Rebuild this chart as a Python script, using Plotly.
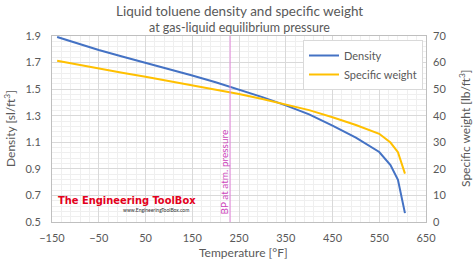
import plotly.graph_objects as go

# Temperature [°F]
temp_f = [-139, -100, -50, 0, 50, 100, 150, 200, 250, 300, 350, 400, 450, 500, 550, 574, 590, 605]
# Density [sl/ft3]
density = [1.893, 1.850, 1.795, 1.746, 1.700, 1.651, 1.603, 1.552, 1.497, 1.440, 1.378, 1.310, 1.225, 1.135, 1.027, 0.929, 0.817, 0.567]
# Specific weight [lb/ft3]
spec_weight = [60.7, 59.4, 57.7, 56.2, 54.7, 53.1, 51.6, 49.9, 48.2, 46.3, 44.3, 42.1, 39.4, 36.5, 33.2, 29.9, 26.3, 18.2]

x_ticks = [-150, -50, 50, 150, 250, 350, 450, 550, 650]
bp_temp = 231

grey = "#595959"
font = "Lato, Open Sans, sans-serif"

def px(xp):
    return (xp - 52) / 374

def py(yp):
    return (222 - yp) / 186

fig = go.Figure()
fig.add_trace(go.Scatter(x=temp_f, y=density, mode="lines", name="Density",
                         line=dict(color="#4472C4", width=2)))
fig.add_trace(go.Scatter(x=temp_f, y=spec_weight, mode="lines", name="Specific weight",
                         line=dict(color="#FFC000", width=2), yaxis="y2"))

fig.add_shape(type="line", x0=bp_temp, x1=bp_temp, y0=0.5, y1=1.9, xref="x", yref="y",
              line=dict(color="#E08AD8", width=1))
fig.add_annotation(x=217, y=0.877, xref="x", yref="y", text="BP at atm. pressure",
                   textangle=-90, showarrow=False, font=dict(size=10, color="#CC44BB", family=font))

# watermark
fig.add_shape(type="rect", x0=px(55), x1=px(194), y0=py(214), y1=py(192), xref="paper", yref="paper",
              line=dict(width=0), fillcolor="white", layer="between")
fig.add_annotation(x=px(56), y=py(200), xref="paper", yref="paper", xanchor="left", yanchor="middle",
                   text="<b>The Engineering ToolBox</b>", showarrow=False,
                   font=dict(size=11, color="#E3001B", family="Liberation Sans Narrow, DejaVu Sans Condensed, sans-serif"))
fig.add_annotation(x=px(191), y=py(210), xref="paper", yref="paper", xanchor="right", yanchor="middle",
                   text="www.EngineeringToolBox.com", showarrow=False,
                   font=dict(size=5, color="#333333", family=font))

# titles
fig.add_annotation(x=0.5, y=py(11), xref="paper", yref="paper", yanchor="middle",
                   text="Liquid toluene density and specific weight",
                   showarrow=False, font=dict(size=13.5, color=grey, family=font))
fig.add_annotation(x=0.5, y=py(27), xref="paper", yref="paper", yanchor="middle",
                   text="at gas-liquid equilibrium pressure",
                   showarrow=False, font=dict(size=12.5, color=grey, family=font))
fig.add_annotation(x=px(10), y=0.5, xref="paper", yref="paper", xanchor="center", yanchor="middle",
                   text="Density [sl/ft<sup>3</sup>]",
                   textangle=-90, showarrow=False, font=dict(size=12, color=grey, family=font))
fig.add_annotation(x=px(465), y=0.5, xref="paper", yref="paper", xanchor="center", yanchor="middle",
                   text="Specific weight [lb/ft<sup>3</sup>]",
                   textangle=-90, showarrow=False, font=dict(size=12, color=grey, family=font))
fig.add_annotation(x=px(243), y=py(252), xref="paper", yref="paper", xanchor="center", yanchor="middle",
                   text="Temperature [°F]",
                   showarrow=False, font=dict(size=12, color=grey, family=font))

fig.update_layout(
    width=474, height=262,
    margin=dict(l=52, r=48, t=36, b=40),
    paper_bgcolor="white", plot_bgcolor="white",
    font=dict(family=font, size=11, color=grey),
    showlegend=True,
    legend=dict(x=px(303), y=py(40), xanchor="left", yanchor="top",
                bgcolor="white", bordercolor="#D9D9D9", borderwidth=1,
                font=dict(size=11, color=grey), tracegroupgap=0, itemwidth=30),
    xaxis=dict(range=[-150, 650], tickvals=x_ticks, showgrid=True, gridcolor="#D9D9D9",
               minor=dict(dtick=20, tick0=-150, showgrid=True, gridcolor="#EFEFEF"),
               showline=True, linecolor="#BFBFBF", mirror=True, zeroline=False,
               tickfont=dict(size=11, color=grey), ticks="", ticklabelstandoff=6),
    yaxis=dict(range=[0.5, 1.9], dtick=0.2, tick0=0.5, tickformat=".1f", showgrid=True, gridcolor="#D9D9D9",
               minor=dict(dtick=0.04, tick0=0.5, showgrid=True, gridcolor="#EFEFEF"),
               showline=True, linecolor="#BFBFBF", mirror=True, zeroline=False,
               tickfont=dict(size=11, color=grey), ticks="", ticklabelstandoff=8),
    yaxis2=dict(range=[0, 70], dtick=10, overlaying="y", side="right", showgrid=False,
                zeroline=False, tickfont=dict(size=11, color=grey), ticks="", ticklabelstandoff=6),
)

fig.write_html("out.html")
